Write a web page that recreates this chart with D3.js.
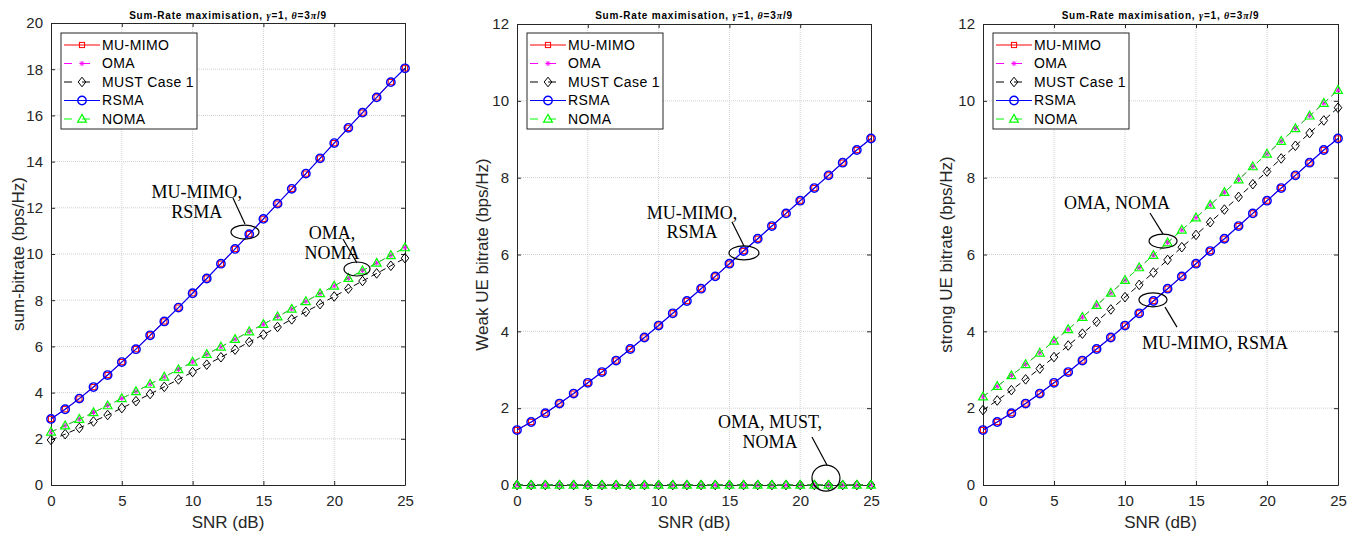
<!DOCTYPE html>
<html>
<head>
<meta charset="utf-8">
<script src="https://cdn.jsdelivr.net/npm/d3@7"></script>
<style>
  body { margin: 0; background: #fff; }
  svg { display: block; font-family: "Liberation Sans", Arial, sans-serif; }
</style>
</head>
<body>
<div id="container"></div>
<script>
// SNR axis (dB)
const snr = [0,1,2,3,4,5,6,7,8,9,10,11,12,13,14,15,16,17,18,19,20,21,22,23,24,25];

// sum rate (bps/Hz)
const sumMuMimo = [2.86,3.28,3.74,4.24,4.76,5.32,5.88,6.48,7.08,7.68,8.30,8.94,9.58,10.22,10.86,11.52,12.18,12.82,13.48,14.14,14.80,15.46,16.12,16.78,17.44,18.04];
const sumOma    = [2.30,2.57,2.85,3.14,3.44,3.75,4.05,4.37,4.68,5.00,5.33,5.66,5.98,6.31,6.64,6.96,7.29,7.62,7.95,8.29,8.62,8.95,9.28,9.61,9.94,10.28];
const sumMust   = [1.95,2.20,2.47,2.75,3.03,3.33,3.63,3.94,4.25,4.57,4.89,5.21,5.53,5.86,6.19,6.51,6.84,7.17,7.50,7.83,8.16,8.50,8.83,9.16,9.49,9.82];
const sumRsma   = sumMuMimo;
const sumNoma   = sumOma;

// weak UE rate
const weakMuMimo = [1.43,1.64,1.87,2.12,2.38,2.66,2.94,3.24,3.54,3.84,4.15,4.47,4.79,5.11,5.43,5.76,6.09,6.41,6.74,7.07,7.40,7.73,8.06,8.39,8.72,9.02];
const weakOma    = [0,0,0,0,0,0,0,0,0,0,0,0,0,0,0,0,0,0,0,0,0,0,0,0,0,0];
const weakMust   = [0,0,0,0,0,0,0,0,0,0,0,0,0,0,0,0,0,0,0,0,0,0,0,0,0,0];
const weakRsma   = weakMuMimo;
const weakNoma   = weakOma;

// strong UE rate
const strongMuMimo = [1.43,1.64,1.87,2.12,2.38,2.66,2.94,3.24,3.54,3.84,4.15,4.47,4.79,5.11,5.43,5.76,6.09,6.41,6.74,7.07,7.40,7.73,8.06,8.39,8.72,9.02];
const strongOma    = [2.30,2.57,2.85,3.14,3.44,3.75,4.05,4.37,4.68,5.00,5.33,5.66,5.98,6.31,6.64,6.96,7.29,7.62,7.95,8.29,8.62,8.95,9.28,9.61,9.94,10.28];
const strongMust   = [1.95,2.20,2.47,2.75,3.03,3.33,3.63,3.94,4.25,4.57,4.89,5.21,5.53,5.86,6.19,6.51,6.84,7.17,7.50,7.83,8.16,8.50,8.83,9.16,9.49,9.82];
const strongRsma   = strongMuMimo;
const strongNoma   = strongOma;

const seriesNames = ['MU-MIMO', 'OMA', 'MUST Case 1', 'RSMA', 'NOMA'];
const xTicks = [0, 5, 10, 15, 20, 25];
const yTicksSum = [0,2,4,6,8,10,12,14,16,18,20];
const yTicksUE = [0,2,4,6,8,10,12];

const styles = {
  'MU-MIMO':     { color: '#ff0000', dash: null,  marker: 'square',   width: 1 },
  'OMA':         { color: '#ff00ff', dash: '6,4', marker: 'asterisk', width: 1 },
  'MUST Case 1': { color: '#000000', dash: '6,4', marker: 'diamond',  width: 1 },
  'RSMA':        { color: '#0000ff', dash: null,  marker: 'circle',   width: 1.2 },
  'NOMA':        { color: '#00ff00', dash: '6,4', marker: 'triangle', width: 1 }
};

const width = 1348, height = 534;
const svg = d3.select('#container').append('svg')
  .attr('width', width).attr('height', height);

const panels = [
  { left: 51, right: 405, top: 23, bottom: 485, ymax: 20, yTicks: yTicksSum,
    ylabel: 'sum-bitrate (bps/Hz)', ylabelX: 18,
    series: [sumMuMimo, sumOma, sumMust, sumRsma, sumNoma],
    notes: [
      { text: ['MU-MIMO,', 'RSMA'], tx: 10.3, ty: [12.68, 11.82], ex: 13.7, ey: 10.95, rx: 14, ry: 7, line: [12.85, 12.42, 13.7, 11.3] },
      { text: ['OMA,', 'NOMA'], tx: 19.84, ty: [10.91, 10.04], ex: 21.61, ey: 9.35, rx: 13, ry: 7, line: [20.62, 10.65, 21.61, 9.61] }
    ] },
  { left: 517, right: 871, top: 24, bottom: 485, ymax: 12, yTicks: yTicksUE,
    ylabel: 'Weak UE bitrate (bps/Hz)', ylabelX: 482,
    series: [weakMuMimo, weakOma, weakMust, weakRsma, weakNoma],
    notes: [
      { text: ['MU-MIMO,', 'RSMA'], tx: 12.36, ty: [7.08, 6.59], ex: 16.03, ey: 6.04, rx: 15, ry: 7, line: [15.18, 6.85, 16.03, 6.22] },
      { text: ['OMA, MUST,', 'NOMA'], tx: 17.87, ty: [1.64, 1.12], ex: 21.82, ey: 0.18, rx: 14, ry: 13, line: [20.83, 1.25, 21.89, 0.52] }
    ] },
  { left: 983, right: 1338, top: 24, bottom: 485, ymax: 12, yTicks: yTicksUE,
    ylabel: 'strong UE bitrate (bps/Hz)', ylabelX: 946,
    series: [strongMuMimo, strongOma, strongMust, strongRsma, strongNoma],
    notes: [
      { text: ['OMA, NOMA'], tx: 9.44, ty: [7.34], ex: 12.68, ey: 6.35, rx: 14, ry: 7, line: [11.76, 7.08, 12.68, 6.53] },
      { text: ['MU-MIMO, RSMA'], tx: 16.34, ty: [3.70], ex: 11.97, ey: 4.82, rx: 14, ry: 7, line: [12.82, 4.63, 13.66, 4.11] }
    ] }
];

// draw one marker at (0,0) into group g
function drawMarker(g, type, color) {
  if (type === 'square') {
    g.append('rect').attr('x', -2.6).attr('y', -2.6).attr('width', 5.2).attr('height', 5.2)
      .attr('fill', 'none').attr('stroke', color).attr('stroke-width', 1);
  } else if (type === 'circle') {
    g.append('circle').attr('r', 4.2).attr('fill', 'none').attr('stroke', color).attr('stroke-width', 1.4);
  } else if (type === 'diamond') {
    g.append('path').attr('d', 'M0,-4.8L3.8,0L0,4.8L-3.8,0Z')
      .attr('fill', 'none').attr('stroke', color).attr('stroke-width', 1);
  } else if (type === 'triangle') {
    g.append('path').attr('d', 'M0,-4.6L4.4,3.2L-4.4,3.2Z')
      .attr('fill', 'none').attr('stroke', color).attr('stroke-width', 1.2);
  } else if (type === 'asterisk') {
    g.append('path').attr('d', 'M-2.6,0H2.6M0,-2.6V2.6M-1.9,-1.9L1.9,1.9M-1.9,1.9L1.9,-1.9')
      .attr('stroke', color).attr('stroke-width', 1);
  }
}

panels.forEach(p => {
  const x = d3.scaleLinear().domain([0, 25]).range([p.left, p.right]);
  const y = d3.scaleLinear().domain([0, p.ymax]).range([p.bottom, p.top]);
  const g = svg.append('g');

  // grid
  g.append('g').selectAll('line').data(xTicks.slice(1, -1)).enter().append('line')
    .attr('x1', d => x(d)).attr('x2', d => x(d)).attr('y1', p.top).attr('y2', p.bottom)
    .attr('stroke', '#cfcfcf').attr('stroke-dasharray', '1,1');
  g.append('g').selectAll('line').data(p.yTicks.slice(1, -1)).enter().append('line')
    .attr('y1', d => y(d)).attr('y2', d => y(d)).attr('x1', p.left).attr('x2', p.right)
    .attr('stroke', '#cfcfcf').attr('stroke-dasharray', '1,1');

  // axes (MATLAB style box with inward ticks)
  const axColor = '#262626';
  const bottomAxis = g.append('g').attr('transform', `translate(0,${p.bottom})`)
    .call(d3.axisBottom(x).tickValues(xTicks).tickSizeInner(-4).tickSizeOuter(0).tickPadding(10));
  const topAxis = g.append('g').attr('transform', `translate(0,${p.top})`)
    .call(d3.axisTop(x).tickValues(xTicks).tickSizeInner(-4).tickSizeOuter(0).tickFormat(''));
  const leftAxis = g.append('g').attr('transform', `translate(${p.left},0)`)
    .call(d3.axisLeft(y).tickValues(p.yTicks).tickSizeInner(-4).tickSizeOuter(0).tickPadding(8));
  const rightAxis = g.append('g').attr('transform', `translate(${p.right},0)`)
    .call(d3.axisRight(y).tickValues(p.yTicks).tickSizeInner(-4).tickSizeOuter(0).tickFormat(''));
  [bottomAxis, topAxis, leftAxis, rightAxis].forEach(a => {
    a.selectAll('path').attr('stroke', axColor);
    a.selectAll('line').attr('stroke', axColor);
    a.selectAll('text').attr('fill', axColor).style('font-size', '15px')
      .style('font-family', '"Liberation Sans", Arial, sans-serif');
  });

  // series
  p.series.forEach((vals, i) => {
    const st = styles[seriesNames[i]];
    const pts = snr.map((s, j) => [s, vals[j]]);
    g.append('path').datum(pts)
      .attr('fill', 'none').attr('stroke', st.color).attr('stroke-width', st.width)
      .attr('stroke-dasharray', st.dash)
      .attr('d', d3.line().x(d => x(d[0])).y(d => y(d[1])));
    pts.forEach(d => {
      const m = g.append('g').attr('transform', `translate(${x(d[0])},${y(d[1])})`);
      drawMarker(m, st.marker, st.color);
    });
  });

  // title
  const title = g.append('text').attr('x', (p.left + p.right) / 2).attr('y', 19)
    .attr('text-anchor', 'middle').style('font-size', '10px').style('font-weight', 'bold')
    .style('letter-spacing', '0.8px').attr('fill', '#000');
  title.append('tspan').text('Sum-Rate maximisation, ');
  title.append('tspan').style('font-style', 'italic').style('font-family', '"Liberation Serif", serif').text('γ');
  title.append('tspan').text('=1, ');
  title.append('tspan').style('font-style', 'italic').style('font-family', '"Liberation Serif", serif').text('θ');
  title.append('tspan').text('=3');
  title.append('tspan').style('font-style', 'italic').style('font-family', '"Liberation Serif", serif').text('π');
  title.append('tspan').text('/9');

  // axis labels
  g.append('text').attr('x', (p.left + p.right) / 2).attr('y', 528)
    .attr('text-anchor', 'middle').style('font-size', '17px').attr('fill', axColor).text('SNR (dB)');
  g.append('text').attr('transform', `translate(${p.ylabelX},${(p.top + p.bottom) / 2}) rotate(-90)`)
    .attr('text-anchor', 'middle').attr('dy', '0.35em').style('font-size', '17px').attr('fill', axColor)
    .text(p.ylabel);

  // legend
  const lx = p.left + 10, ly = 33;
  const leg = g.append('g');
  leg.append('rect').attr('x', lx).attr('y', ly).attr('width', 136).attr('height', 96)
    .attr('fill', '#fff').attr('stroke', axColor).attr('stroke-width', 1);
  seriesNames.forEach((name, i) => {
    const st = styles[name];
    const ry = ly + 12 + i * 18.5;
    leg.append('line').attr('x1', lx + 3).attr('x2', lx + 39).attr('y1', ry).attr('y2', ry)
      .attr('stroke', st.color).attr('stroke-width', st.width)
      .attr('stroke-dasharray', st.dash ? '8,10' : null);
    const m = leg.append('g').attr('transform', `translate(${lx + 21},${ry})`);
    drawMarker(m, st.marker, st.color);
    leg.append('text').attr('x', lx + 41).attr('y', ry).attr('dy', '0.35em')
      .style('font-size', '14px').style('letter-spacing', '0.4px').attr('fill', '#000').text(name);
  });

  // annotations
  p.notes.forEach(n => {
    n.text.forEach((t, k) => {
      g.append('text').attr('x', x(n.tx)).attr('y', y(n.ty[k])).attr('dy', '0.35em')
        .attr('text-anchor', 'middle').style('font-family', '"Liberation Serif", "Times New Roman", serif')
        .style('font-size', '18px').attr('fill', '#000').text(t);
    });
    g.append('ellipse').attr('cx', x(n.ex)).attr('cy', y(n.ey)).attr('rx', n.rx).attr('ry', n.ry)
      .attr('fill', 'none').attr('stroke', '#000').attr('stroke-width', 1.2);
    g.append('line').attr('x1', x(n.line[0])).attr('y1', y(n.line[1]))
      .attr('x2', x(n.line[2])).attr('y2', y(n.line[3]))
      .attr('stroke', '#000').attr('stroke-width', 1.2);
  });
});
</script>
</body>
</html>
